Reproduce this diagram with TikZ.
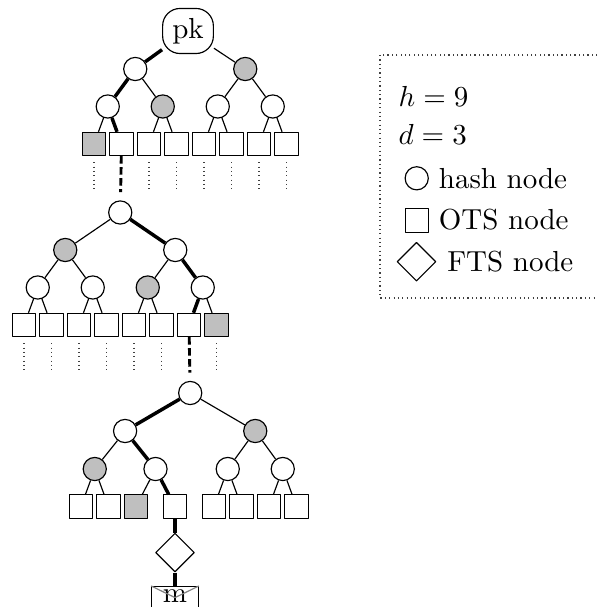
\documentclass[tikz,border=0pt]{standalone}
\usetikzlibrary{shapes.geometric}
\tikzset{
  hashnode/.style={circle,draw,minimum size=8pt,inner sep=0pt},
  otsnode/.style={rectangle,draw,minimum size=8pt,inner sep=0pt},
  ftsnode/.style={diamond,draw,minimum size=13.4pt,inner sep=0pt},
  used/.style={fill=lightgray},
  authedge/.style={line width=1.2pt},
  linkdash/.style={line width=1pt,dash pattern=on 2.6pt off 1.2pt,shorten >=2.8pt},
  leafdots/.style={black!75,dash pattern=on 0.4pt off 1.1pt},
  legtext/.style={anchor=base west,inner sep=0pt}
}
\begin{document}
\begin{tikzpicture}[x=0.345pt,y=-0.345pt,line join=round]
\useasboundingbox (0,0) rectangle (597,607);
\clip (0,0) rectangle (597,607);
% top tree
\node[draw,rounded corners=6pt] (A1) at (188,31) {pk};
\foreach \x/\n/\s in {135.25/2/,245.25/3/used} \node[hashnode,\s] (A\n) at (\x,69) {};
\foreach \x/\n/\s in {107.75/4/,162.75/5/used,217.75/6/,272.75/7/} \node[hashnode,\s] (A\n) at (\x,106.5) {};
\foreach \x/\n/\s in {94/8/used,121.5/9/,149/10/,176.5/11/,204/12/,231.5/13/,259/14/,286.5/15/} \node[otsnode,\s] (A\n) at (\x,144) {};
\foreach \p/\c in {1/3,2/5,3/6,3/7,4/8,5/10,5/11,6/12,6/13,7/14,7/15} \draw (A\p) -- (A\c);
\draw[authedge] (A1) -- (A2) (A2) -- (A4) (A4) -- (A9);
\foreach \n in {8,10,11,12,13,14,15} \draw[leafdots] (A\n.south) ++(0,6) -- ++(0,27);
% middle tree
\node[hashnode] (B1) at (120.25,212.5) {};
\foreach \x/\n/\s in {65.25/2/used,175.25/3/} \node[hashnode,\s] (B\n) at (\x,250) {};
\foreach \x/\n/\s in {37.75/4/,92.75/5/,147.75/6/used,202.75/7/} \node[hashnode,\s] (B\n) at (\x,287.5) {};
\foreach \x/\n/\s in {24/8/,51.5/9/,79/10/,106.5/11/,134/12/,161.5/13/,189/14/,216.5/15/used} \node[otsnode,\s] (B\n) at (\x,325) {};
\foreach \p/\c in {1/2,2/4,2/5,3/6,4/8,4/9,5/10,5/11,6/12,6/13,7/15} \draw (B\p) -- (B\c);
\draw[authedge] (B1) -- (B3) (B3) -- (B7) (B7) -- (B14);
\foreach \n in {8,9,10,11,12,13,15} \draw[leafdots] (B\n.south) ++(0,6) -- ++(0,27);
\draw[linkdash] (A9) -- (B1);
% bottom tree
\node[hashnode] (C1) at (190.2,393) {};
\foreach \x/\n/\s in {125.1/2/,255.25/3/used} \node[hashnode,\s] (C\n) at (\x,431) {};
\foreach \x/\n/\s in {94.75/4/used,155.5/5/,227.75/6/,282.75/7/} \node[hashnode,\s] (C\n) at (\x,469) {};
\foreach \x/\n/\s in {81/8/,108.5/9/,136/10/used,175/11/,214/12/,241.5/13/,269/14/,296.5/15/} \node[otsnode,\s] (C\n) at (\x,506.5) {};
\foreach \p/\c in {1/3,2/4,3/6,3/7,4/8,4/9,5/10,6/12,6/13,7/14,7/15} \draw (C\p) -- (C\c);
\draw[authedge] (C1) -- (C2) (C2) -- (C5) (C5) -- (C11);
\draw[linkdash] (B14) -- (C1);
% fts and message
\node[ftsnode] (F) at (175,552.5) {};
\node[draw,anchor=north,minimum width=16pt,inner ysep=1.2pt,text depth=10pt] (M) at (175,586) {m};
\draw[gray] (M.north west) -- ([yshift=-4pt]M.north) -- (M.north east);
\draw[authedge] (C11) -- (F) (F) -- (M);
% legend
\draw[leafdots] (380,55) rectangle (800,298);
\node[legtext] (hval) at (398,106.7) {$h=9$};
\node[legtext] (dval) at (398,145) {$d=3$};
\node[hashnode] (lhash) at (416.7,178.3) {};
\node[legtext] (thash) at (438.3,188.3) {hash node};
\node[otsnode] (lots) at (416.7,220.5) {};
\node[legtext] (tots) at (438.3,230) {OTS node};
\node[ftsnode] (lfts) at (416.5,261.7) {};
\node[legtext] (tfts) at (446.7,271.7) {FTS node};
\end{tikzpicture}
\end{document}
